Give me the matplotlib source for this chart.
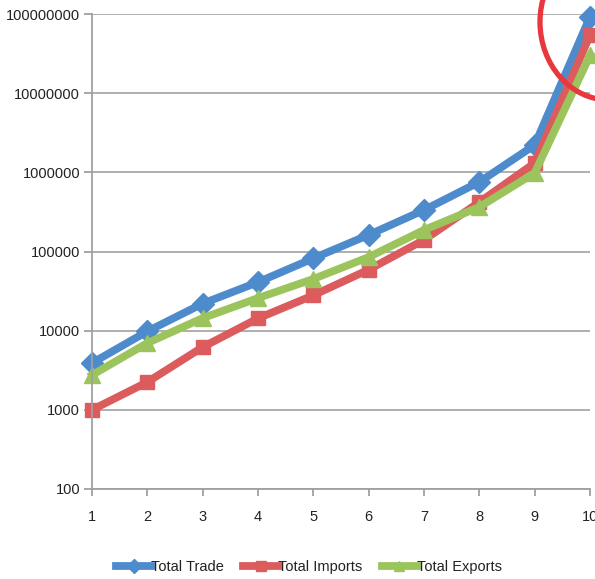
import matplotlib
matplotlib.use("Agg")
import matplotlib.pyplot as plt
from matplotlib.patches import Ellipse
from matplotlib.ticker import FixedLocator, FuncFormatter, NullLocator

plt.rcParams['font.family'] = ['Liberation Sans', 'DejaVu Sans']

# Series values (log scale)
periods = [1, 2, 3, 4, 5, 6, 7, 8, 9, 10]
total_trade = [3900, 9800, 22000, 41000, 82000, 162000, 334000, 755000, 2210000, 92000000]
total_imports = [1000, 2240, 6200, 14300, 28000, 59000, 140000, 420000, 1310000, 54000000]
total_exports = [2750, 6980, 14400, 25800, 45000, 85000, 187000, 365000, 982000, 30000000]
y_ticks = [1e2, 1e3, 1e4, 1e5, 1e6, 1e7, 1e8]

fig = plt.figure(figsize=(5.95, 5.79), dpi=100)
ax = fig.add_axes([92 / 595, 1 - 489 / 579, (590 - 92) / 595, (489 - 14) / 579])

series = [
    (total_trade, 'Total Trade', '#4d8bcc', 'D', 11),
    (total_imports, 'Total Imports', '#dc5c5d', 's', 10.5),
    (total_exports, 'Total Exports', '#9cc45c', '^', 11),
]
for vals, name, color, marker, ms in series:
    ax.plot(periods, vals, color=color, lw=5.6, marker=marker, markersize=ms,
            markerfacecolor=color, markeredgecolor=color, label=name,
            clip_on=False, solid_joinstyle='round')

ax.set_yscale('log')
ax.set_ylim(1e2, 1e8)
ax.set_xlim(1, 10)
ax.yaxis.set_major_locator(FixedLocator(y_ticks))
ax.yaxis.set_minor_locator(NullLocator())
ax.yaxis.set_major_formatter(FuncFormatter(lambda v, p: '%d' % round(v)))
ax.set_xticks(periods)
ax.grid(axis='y', color='#a8a8a8', lw=1.3)
ax.set_axisbelow(True)

for side in ['top', 'right']:
    ax.spines[side].set_visible(False)
for side in ['left', 'bottom']:
    ax.spines[side].set_color('#a0a0a0')
    ax.spines[side].set_linewidth(1.3)
ax.tick_params(axis='y', length=6, width=1.3, color='#a0a0a0', labelsize=10.5,
               labelcolor='#222222', pad=2.5)
ax.tick_params(axis='x', length=5, width=1.3, color='#a0a0a0', labelsize=10.5,
               labelcolor='#222222', pad=10)

# highlight around the last period
fig.add_artist(Ellipse((609 / 595, 1 - 22 / 579), 138 / 595, 156 / 579,
                       transform=fig.transFigure, fill=False,
                       edgecolor='#e8383d', lw=3.8))

handles, labels = ax.get_legend_handles_labels()
fig.legend(handles, labels, loc='center', bbox_to_anchor=(309 / 595, 1 - 567 / 579),
           ncol=3, frameon=False, fontsize=10.5, handlelength=2.4, handletextpad=0.0,
           columnspacing=1.3, labelcolor='#222222', markerscale=0.65)

fig.savefig('out.png', dpi=100)
